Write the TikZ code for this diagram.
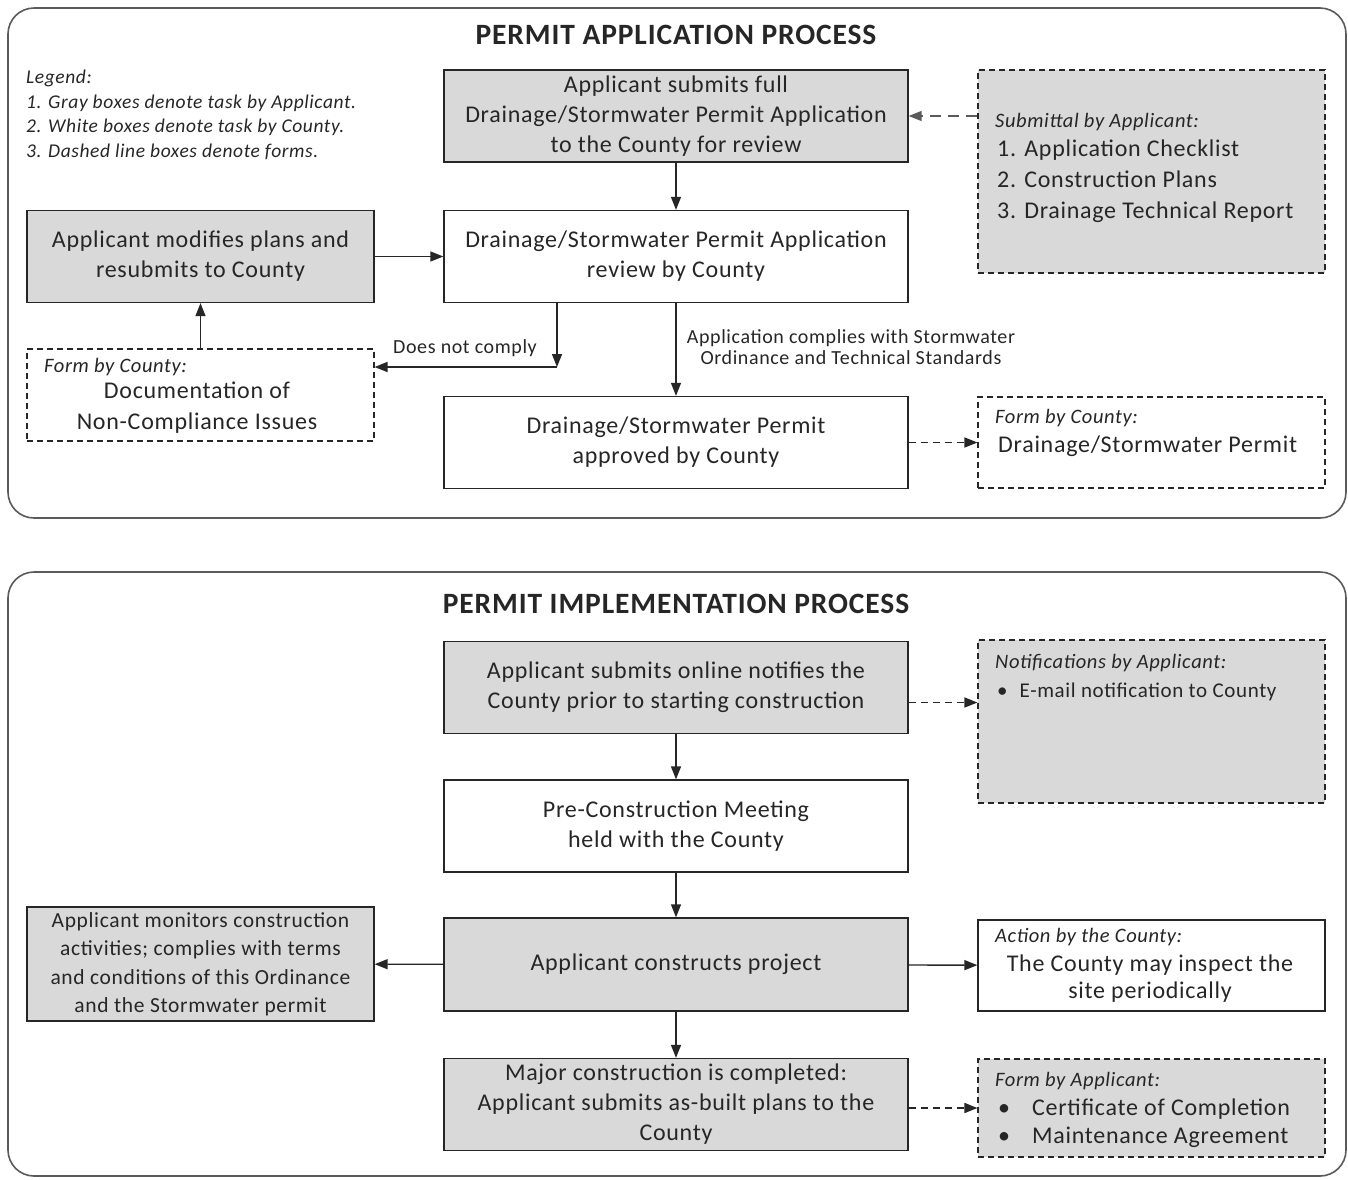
\documentclass[tikz,border=0pt]{standalone}
\usepackage{fontspec}
\setmainfont{Carlito}[LetterSpace=3]
\usetikzlibrary{arrows.meta,positioning}
\definecolor{boxgray}{HTML}{D9D9D9}
\definecolor{inkgray}{HTML}{262626}
\definecolor{framegray}{HTML}{5A5A5A}
\newcommand{\boxfont}{\fontsize{24}{30}\selectfont}
\newcommand{\headfont}{\fontsize{20.5}{22}\selectfont\itshape}
\newcommand{\formfont}{\fontsize{24}{31}\selectfont}
\newcommand{\lblfont}{\fontsize{20}{21}\selectfont}
\tikzset{
  taskbox/.style={draw=inkgray, line width=1.3pt, minimum width=464pt, minimum height=92pt,
    align=center, font=\boxfont, text=inkgray, inner sep=0pt},
  appbox/.style={taskbox, fill=boxgray},
  cntybox/.style={taskbox, fill=white},
  formbox/.style={draw=inkgray, line width=1.1pt, dash pattern=on 6pt off 4pt,
    minimum width=347pt, fill=white},
  formhead/.style={anchor=west, font=\headfont, text=inkgray, inner sep=0pt},
  formtxt/.style={font=\formfont, text=inkgray, inner sep=0pt},
  lbl/.style={font=\lblfont, text=inkgray, inner sep=0pt, align=center},
  flow/.style={-{Triangle[length=13pt,width=10pt]}, line width=1.4pt, draw=inkgray},
  formflow/.style={flow, dash pattern=on 7pt off 5pt},
  frame/.style={draw=framegray, line width=1.6pt, rounded corners=26pt},
  title/.style={font=\fontsize{29.5}{32}\selectfont\bfseries, text=inkgray}
}
\begin{document}
\begin{tikzpicture}[x=1pt,y=-1pt]
    \useasboundingbox (0,0) rectangle (1348,1179);
    \draw [frame] (8,8) rectangle (1346,518);
    \draw [frame] (8,572) rectangle (1346,1176);

    \node [title] (apptitle) at (676,35) {PERMIT APPLICATION PROCESS};
    \node [anchor=north west, align=left, inner sep=0pt, text=inkgray,
        font=\fontsize{19.5}{24.5}\selectfont\itshape] (legend) at (26,70)
        {Legend:\\1. Gray boxes denote task by Applicant.\\2. White boxes denote task by County.\\3. Dashed line boxes denote forms.};

    \node [appbox] (submit) at (676,116) {Applicant submits full\\Drainage/Stormwater Permit Application\\to the County for review};
    \node [cntybox] (review) at (676,256.5) {Drainage/Stormwater Permit Application\\review by County};
    \node [cntybox] (approve) at (676,442.5) {Drainage/Stormwater Permit\\approved by County};
    \node [appbox, minimum width=347pt] (modify) at (200.5,256.5) {Applicant modifies plans and\\resubmits to County};
    \node [formbox, minimum height=92pt] (noncomp) at (200.5,395) {};
    \node [formbox, fill=boxgray, minimum height=203pt] (submittal) at (1151.5,171.5) {};
    \node [formbox, minimum height=91pt] (permit) at (1151.5,442.5) {};

    \node [formhead] (nchead) at (44,367) {Form by County:};
    \node [formtxt, align=center] (nctxt) at (197,408) {Documentation of\\Non-Compliance Issues};
    \node [formhead] (subhead) at (995,122) {Submittal by Applicant:};
    \node [formtxt, anchor=west, align=left] (sublist) at (997,181) {1. Application Checklist\\2. Construction Plans\\3. Drainage Technical Report};
    \node [formhead] (permhead) at (995,418) {Form by County:};
    \node [formtxt, anchor=west] (permtxt) at (998,446) {Drainage/Stormwater Permit};

    \draw [flow] (submit) -- (review);
    \draw [flow] (modify) -- (review);
    \draw [flow] (noncomp) -- (modify);
    \coordinate (nocorner) at (557,367);
    \draw [flow] (review.south -| nocorner) -- (nocorner);
    \draw [flow] (nocorner) -- (nocorner -| noncomp.east);
    \node [lbl] (nolbl) at (465,348) {Does not comply};
    \draw [flow] (review) -- (approve);
    \node [lbl] (oklbl) at (851,347) {Application complies with Stormwater\\Ordinance and Technical Standards};
    \draw [formflow, draw=framegray, dash pattern=on 11pt off 7pt] (submittal.west |- submit.east) -- (submit.east);
    \draw [formflow] (approve) -- (permit);

    \node [title] (imptitle) at (676,604) {PERMIT IMPLEMENTATION PROCESS};

    \node [appbox] (notify) at (676,687.5) {Applicant submits online notifies the\\County prior to starting construction};
    \node [cntybox] (meeting) at (676,826) {Pre-Construction Meeting\\held with the County};
    \node [appbox, minimum height=93pt] (construct) at (676,964.5) {Applicant constructs project};
    \node [appbox] (complete) at (676,1104.5) {Major construction is completed:\\Applicant submits as-built plans to the\\County};
    \node [appbox, minimum width=347pt, minimum height=114pt, font=\fontsize{21.5}{28.5}\selectfont] (monitor) at (200.5,964)
        {Applicant monitors construction\\activities; complies with terms\\and conditions of this Ordinance\\and the Stormwater permit};
    \node [formbox, fill=boxgray, minimum height=163pt] (notif) at (1151.5,721.5) {};
    \node [cntybox, minimum width=347pt, minimum height=91pt] (action) at (1151.5,965.5) {};
    \node [formbox, fill=boxgray, minimum height=98pt] (certs) at (1151.5,1108) {};

    \node [formhead] (notifhead) at (995,663) {Notifications by Applicant:};
    \node [formtxt, anchor=west, font=\fontsize{21}{28}\selectfont] (notiftxt) at (997,692) {\textbullet\hspace{12pt}E-mail notification to County};
    \node [formhead] (acthead) at (995,937) {Action by the County:};
    \node [formtxt, align=center, font=\fontsize{24}{27}\selectfont] (acttxt) at (1150,978.5) {The County may inspect the\\site periodically};
    \node [formhead] (certhead) at (995,1081) {Form by Applicant:};
    \node [formtxt, anchor=west, align=left, font=\fontsize{24}{28}\selectfont] (certtxt) at (998,1123)
        {\textbullet\hspace{22pt}Certificate of Completion\\\textbullet\hspace{22pt}Maintenance Agreement};

    \draw [flow] (notify) -- (meeting);
    \draw [flow] (meeting) -- (construct);
    \draw [flow] (construct) -- (complete);
    \draw [flow] (construct) -- (monitor);
    \draw [flow] (construct) -- (action);
    \draw [formflow] ([yshift=-15pt]notify.east) -- ([yshift=-15pt]notify.east -| notif.west);
    \draw [formflow] (complete.east |- certs.west) -- (certs.west);
\end{tikzpicture}
\end{document}
